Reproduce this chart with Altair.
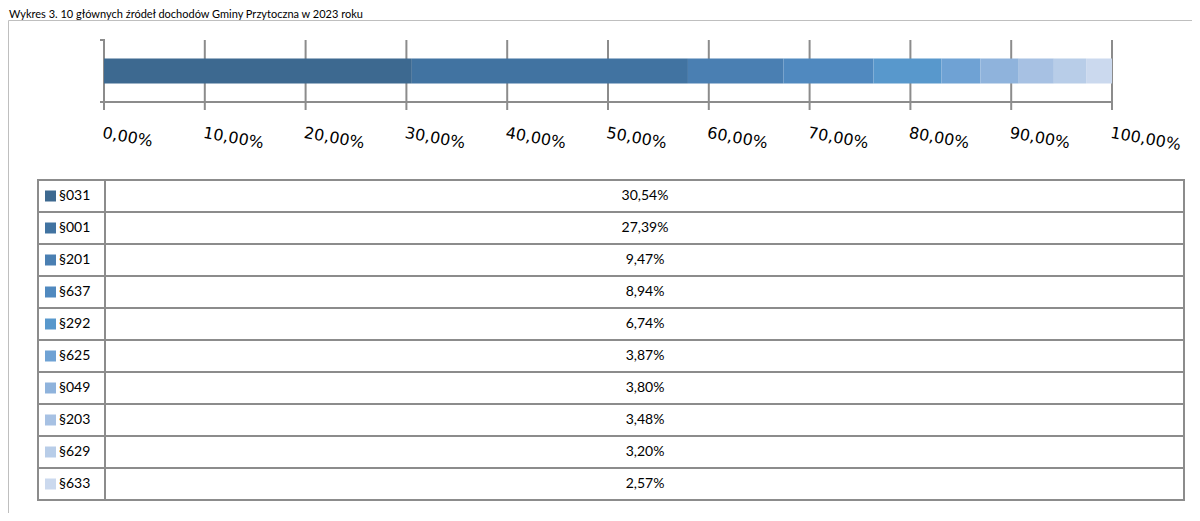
import altair as alt
import pandas as pd

# ---- data ----
title_text = "Wykres 3. 10 głównych źródeł dochodów Gminy Przytoczna w 2023 roku"
categories = ["§031", "§001", "§201", "§637", "§292", "§625", "§049", "§203", "§629", "§633"]
shares = [30.54, 27.39, 9.47, 8.94, 6.74, 3.87, 3.80, 3.48, 3.20, 2.57]
colors = ["#3d6990", "#4173a1", "#4a7fb2", "#5089bf", "#5898cc",
          "#6fa2d4", "#8fb3dc", "#a7c1e3", "#b8cde8", "#cbd9ee"]
tick_values = [0, 10, 20, 30, 40, 50, 60, 70, 80, 90, 100]
tick_labels = ["0,00%", "10,00%", "20,00%", "30,00%", "40,00%", "50,00%",
               "60,00%", "70,00%", "80,00%", "90,00%", "100,00%"]

df = pd.DataFrame({
    "cat": categories,
    "share": shares,
    "idx": list(range(len(categories))),
    "label": [f"{v:.2f}".replace(".", ",") + "%" for v in shares],
    "grp": ["all"] * len(categories),
})
ticks = pd.DataFrame({"t": tick_values, "lab": tick_labels})
axis_df = pd.DataFrame({"a": [0], "b": [100]})
one = pd.DataFrame({"k": [0]})

GRID = "#8c8c8c"
xs = alt.Scale(domain=[0, 100], range=[96, 1104])
color_scale = alt.Scale(domain=categories, range=colors)

# frame (left and top edges)
frame_top = alt.Chart(one).mark_rule(color="#bfbfbf", strokeWidth=1).encode(
    x=alt.value(0.5), x2=alt.value(1184), y=alt.value(0.5))
frame_left = alt.Chart(one).mark_rule(color="#bfbfbf", strokeWidth=1).encode(
    x=alt.value(0.5), y=alt.value(0.5), y2=alt.value(493))

# title
title = alt.Chart(one).mark_text(
    text=title_text, align="left", baseline="alphabetic",
    font="Lato", fontSize=11, color="#000000").encode(
    x=alt.value(1), y=alt.value(-2))

# gridlines + tick marks
grid = alt.Chart(ticks).mark_rule(color=GRID, strokeWidth=2).encode(
    x=alt.X("t:Q", scale=xs, axis=None),
    y=alt.value(20), y2=alt.value(90))

# x axis line
xline = alt.Chart(axis_df).mark_rule(color=GRID, strokeWidth=2).encode(
    x=alt.X("a:Q", scale=xs, axis=None), x2="b:Q", y=alt.value(82))
# small left ticks of the category axis
ytick_top = alt.Chart(one).mark_rule(color=GRID, strokeWidth=2).encode(
    x=alt.value(92), x2=alt.value(97), y=alt.value(20))
ytick_bot = alt.Chart(one).mark_rule(color=GRID, strokeWidth=2).encode(
    x=alt.value(92), x2=alt.value(97), y=alt.value(82))

# stacked bar
bar = alt.Chart(df).mark_bar(size=25).encode(
    x=alt.X("share:Q", stack="zero", scale=xs, axis=None),
    y=alt.Y("grp:N", axis=None,
            scale=alt.Scale(range=[20, 82], paddingInner=0, paddingOuter=0.74)),
    color=alt.Color("cat:N", scale=color_scale, legend=None),
    order=alt.Order("idx:Q"),
)

# tick labels
tlabels = alt.Chart(ticks).mark_text(
    angle=10, align="left", baseline="top", font="DejaVu Sans",
    fontSize=16, color="#000000").encode(
    x=alt.X("t:Q", scale=xs, axis=None), y=alt.value(105), text="lab:N")

# data table
ys = alt.Scale(domain=categories, range=[160, 480], paddingInner=0, paddingOuter=0)
cell_left = alt.Chart(df).mark_rect(fill="#ffffff", stroke=GRID, strokeWidth=2).encode(
    x=alt.value(30), x2=alt.value(97),
    y=alt.Y("cat:N", scale=ys, axis=None, sort=categories))
cell_right = alt.Chart(df).mark_rect(fill="#ffffff", stroke=GRID, strokeWidth=2).encode(
    x=alt.value(97), x2=alt.value(1176),
    y=alt.Y("cat:N", scale=ys, axis=None, sort=categories))
swatch = alt.Chart(df).mark_square(size=121, opacity=1).encode(
    x=alt.value(42.5),
    y=alt.Y("cat:N", scale=ys, axis=None, sort=categories),
    color=alt.Color("cat:N", scale=color_scale, legend=None))
cat_text = alt.Chart(df).mark_text(
    align="left", baseline="middle", font="Lato", fontSize=14, color="#000000").encode(
    x=alt.value(51),
    y=alt.Y("cat:N", scale=ys, axis=None, sort=categories),
    text="cat:N")
val_text = alt.Chart(df).mark_text(
    align="center", baseline="middle", font="Lato", fontSize=14, color="#000000").encode(
    x=alt.value(637),
    y=alt.Y("cat:N", scale=ys, axis=None, sort=categories),
    text="label:N")

chart = alt.layer(
    frame_top, frame_left, title, grid, xline, ytick_top, ytick_bot, bar, tlabels,
    cell_left, cell_right, swatch, cat_text, val_text,
).resolve_scale(
    x="independent", y="independent", color="shared"
).properties(
    width=1184, height=493,
    padding={"left": 0, "top": 12, "right": 0, "bottom": 0},
    autosize=alt.AutoSizeParams(type="none"),
    background="#ffffff",
).configure_view(stroke=None)

chart.save("out.html", embed_options={"renderer": "svg", "actions": False})
